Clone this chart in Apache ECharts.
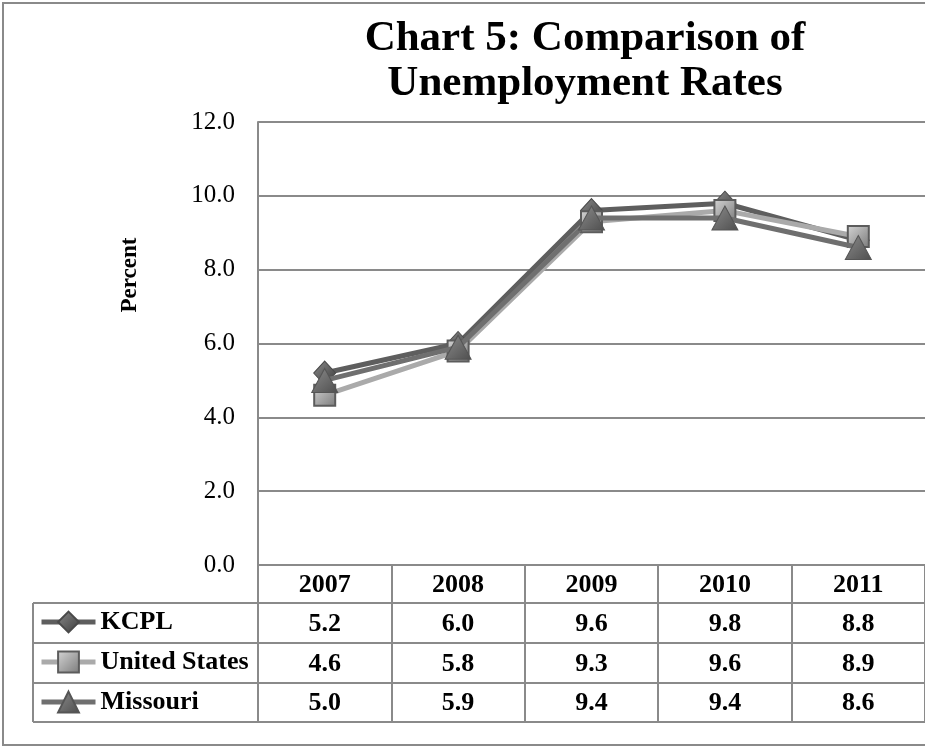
<!DOCTYPE html>
<html>
<head>
<meta charset="utf-8">
<script src="https://cdn.jsdelivr.net/npm/echarts@6/dist/echarts.min.js"></script>
<style>
  html, body { margin: 0; padding: 0; background: #fff; }
  #chart { width: 925px; height: 750px; }
</style>
</head>
<body>
<div id="chart"></div>
<script>
// Unemployment rates (percent), 2007-2011
const years = ['2007', '2008', '2009', '2010', '2011'];
const kcpl = [5.2, 6.0, 9.6, 9.8, 8.8];
const unitedStates = [4.6, 5.8, 9.3, 9.6, 8.9];
const missouri = [5.0, 5.9, 9.4, 9.4, 8.6];
const seriesNames = ['KCPL', 'United States', 'Missouri'];
const yTicks = [0, 2, 4, 6, 8, 10, 12];

const FONT = '"Liberation Serif", "Times New Roman", serif';
const GRID = { left: 258, top: 122, right: 0, bottom: 185 };
const ROW_H = 39.6;
const TABLE_ROWS = [603, 643, 683, 722];
const LINE_GRAY = '#8a8a8a';

function grad(c1, c2) {
  return new echarts.graphic.LinearGradient(0, 0, 1, 1, [
    { offset: 0, color: c1 }, { offset: 1, color: c2 }
  ]);
}

const chart = echarts.init(document.getElementById('chart'), null, { renderer: 'canvas' });

// Table body: each category label carries its header and the three series values
const columns = [kcpl, unitedStates, missouri];
function tableLabel(value) {
  const i = years.indexOf(value);
  return [value].concat(columns.map(c => c[i].toFixed(1))).join('\n');
}

const graphics = [
  // outer chart frame
  { type: 'rect', shape: { x: 3, y: 3, width: 940, height: 742 },
    style: { fill: null, stroke: LINE_GRAY, lineWidth: 2 }, silent: true },
  // left edge of the legend column
  { type: 'line', shape: { x1: 33, y1: TABLE_ROWS[0], x2: 33, y2: TABLE_ROWS[3] },
    style: { stroke: LINE_GRAY, lineWidth: 2 }, silent: true },
  // value axis title
  { type: 'text', x: 130, y: 275, rotation: Math.PI / 2,
    style: { text: 'Percent', fontFamily: FONT, fontSize: 23, fontWeight: 'bold', fill: '#000',
      align: 'center', verticalAlign: 'middle' }, silent: true }
];
TABLE_ROWS.forEach(y => {
  graphics.push({ type: 'line', shape: { x1: 33, y1: y, x2: 930, y2: y },
    style: { stroke: LINE_GRAY, lineWidth: 2 }, silent: true });
});

chart.setOption({
  animation: false,
  backgroundColor: '#fff',
  title: {
    text: 'Chart 5: Comparison of\nUnemployment Rates',
    left: 580, top: 11, textAlign: 'center',
    textStyle: { fontFamily: FONT, fontSize: 43, fontWeight: 'bold', color: '#000', lineHeight: 45 }
  },
  legend: {
    data: seriesNames,
    orient: 'vertical',
    left: 39, top: 609, padding: 0,
    itemWidth: 54, itemHeight: 26, itemGap: 14,
    lineStyle: { width: 5 },
    textStyle: { fontFamily: FONT, fontSize: 26, fontWeight: 'bold', color: '#000', lineHeight: 26 }
  },
  grid: GRID,
  xAxis: {
    type: 'category',
    data: years,
    boundaryGap: true,
    axisLine: { show: true, lineStyle: { color: LINE_GRAY, width: 2 } },
    axisTick: { show: true, length: 157, lineStyle: { color: LINE_GRAY, width: 2 } },
    axisLabel: {
      margin: 0,
      formatter: tableLabel,
      fontFamily: FONT, fontSize: 26, fontWeight: 'bold', color: '#000',
      lineHeight: ROW_H, verticalAlign: 'top'
    },
    splitLine: { show: false }
  },
  yAxis: {
    type: 'value',
    min: yTicks[0], max: yTicks[yTicks.length - 1], interval: 2,
    axisLine: { show: true, lineStyle: { color: LINE_GRAY, width: 2 } },
    axisTick: { show: false },
    axisLabel: {
      margin: 23,
      formatter: v => v.toFixed(1),
      fontFamily: FONT, fontSize: 25, color: '#000'
    },
    splitLine: { show: true, lineStyle: { color: LINE_GRAY, width: 2 } }
  },
  series: [
    {
      name: 'KCPL', type: 'line', data: kcpl,
      symbol: 'diamond', symbolSize: [22, 24],
      lineStyle: { color: '#5e5e5e', width: 5 },
      itemStyle: { color: grad('#8a8a8a', '#3c3c3c'), borderColor: '#4a4a4a', borderWidth: 1 },
      z: 2
    },
    {
      name: 'United States', type: 'line', data: unitedStates,
      symbol: 'rect', symbolSize: 21,
      lineStyle: { color: '#aaaaaa', width: 5 },
      itemStyle: { color: grad('#d6d6d6', '#7a7a7a'), borderColor: '#5c5c5c', borderWidth: 2 },
      z: 3
    },
    {
      name: 'Missouri', type: 'line', data: missouri,
      symbol: 'triangle', symbolSize: [26, 24],
      lineStyle: { color: '#6f6f6f', width: 5 },
      itemStyle: { color: grad('#8c8c8c', '#4e4e4e'), borderColor: '#555555', borderWidth: 1 },
      z: 4
    }
  ],
  graphic: graphics
});
</script>
</body>
</html>
